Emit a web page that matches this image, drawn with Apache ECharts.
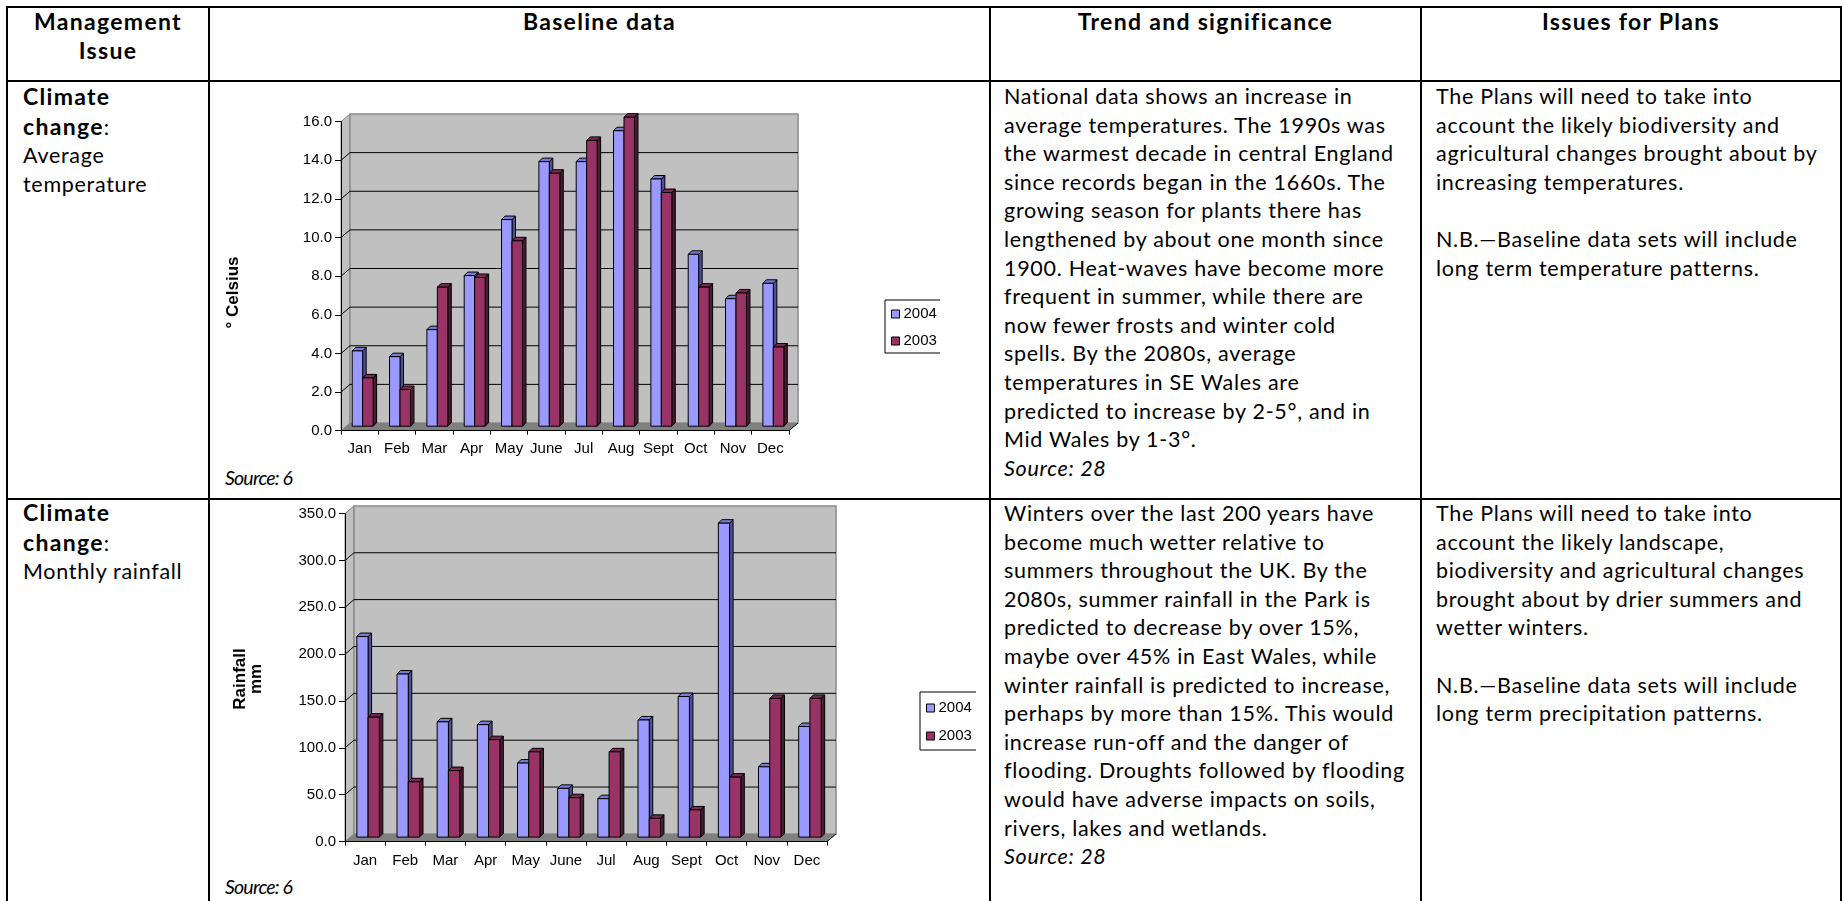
<!DOCTYPE html>
<html>
<head>
<meta charset="utf-8">
<script src="https://cdn.jsdelivr.net/npm/echarts@6.0.0/dist/echarts.min.js"></script>
<style>
  html, body { margin: 0; padding: 0; background: #fff; }
  body { width: 1843px; height: 901px; position: relative; overflow: hidden; }
  .ln { position: absolute; background: #000; }
  .txt {
    position: absolute; font-family: 'Lato', 'Noto Sans', sans-serif; font-size: 21.5px;
    letter-spacing: 0.7px; line-height: 28.6px; color: #000; white-space: nowrap;
  }
  .txt b, .hd { font-weight: bold; font-size: 23px; letter-spacing: 1.3px; }
  .hd { text-align: center; }
  .src { font-style: italic; }
  .src6 { font-size: 19.5px; letter-spacing: -0.8px; }
  .chart { position: absolute; }
</style>
</head>
<body>
<!-- table rules -->
<div class="ln" style="left:6px;top:6px;width:1836px;height:2px"></div>
<div class="ln" style="left:6px;top:80px;width:1836px;height:2px"></div>
<div class="ln" style="left:6px;top:498px;width:1836px;height:2px"></div>
<div class="ln" style="left:6px;top:6px;width:2px;height:895px"></div>
<div class="ln" style="left:208px;top:6px;width:2px;height:895px"></div>
<div class="ln" style="left:989px;top:6px;width:2px;height:895px"></div>
<div class="ln" style="left:1420px;top:6px;width:2px;height:895px"></div>
<div class="ln" style="left:1840px;top:6px;width:2px;height:895px"></div>

<!-- header -->
<div class="txt hd" style="left:8px;width:200px;top:7px">Management<br>Issue</div>
<div class="txt hd" style="left:210px;width:779px;top:7px">Baseline data</div>
<div class="txt hd" style="left:991px;width:429px;top:7px">Trend and significance</div>
<div class="txt hd" style="left:1422px;width:418px;top:7px">Issues for Plans</div>

<!-- row 1 -->
<div class="txt" style="left:23px;top:82px"><b>Climate<br>change</b>:<br>Average<br>temperature</div>
<div class="txt src src6" style="left:225px;top:464px">Source: 6</div>
<div class="txt" style="left:1004px;top:82px">National data shows an increase in<br>average temperatures. The 1990s was<br>the warmest decade in central England<br>since records began in the 1660s. The<br>growing season for plants there has<br>lengthened by about one month since<br>1900. Heat-waves have become more<br>frequent in summer, while there are<br>now fewer frosts and winter cold<br>spells. By the 2080s, average<br>temperatures in SE Wales are<br>predicted to increase by 2-5°, and in<br>Mid Wales by 1-3°.<br><span class="src">Source: 28</span></div>
<div class="txt" style="left:1436px;top:82px">The Plans will need to take into<br>account the likely biodiversity and<br>agricultural changes brought about by<br>increasing temperatures.<br><br>N.B.—Baseline data sets will include<br>long term temperature patterns.</div>

<!-- row 2 -->
<div class="txt" style="left:23px;top:498px"><b>Climate<br>change</b>:<br>Monthly rainfall</div>
<div class="txt src src6" style="left:225px;top:873px">Source: 6</div>
<div class="txt" style="left:1004px;top:499px">Winters over the last 200 years have<br>become much wetter relative to<br>summers throughout the UK. By the<br>2080s, summer rainfall in the Park is<br>predicted to decrease by over 15%,<br>maybe over 45% in East Wales, while<br>winter rainfall is predicted to increase,<br>perhaps by more than 15%. This would<br>increase run-off and the danger of<br>flooding. Droughts followed by flooding<br>would have adverse impacts on soils,<br>rivers, lakes and wetlands.<br><span class="src">Source: 28</span></div>
<div class="txt" style="left:1436px;top:499px">The Plans will need to take into<br>account the likely landscape,<br>biodiversity and agricultural changes<br>brought about by drier summers and<br>wetter winters.<br><br>N.B.—Baseline data sets will include<br>long term precipitation patterns.</div>

<div id="tempChart" class="chart" style="left:212px;top:83px;width:728px;height:414px"></div>
<div id="rainChart" class="chart" style="left:212px;top:501px;width:764px;height:400px"></div>

<script>
  var months = ['Jan', 'Feb', 'Mar', 'Apr', 'May', 'June', 'Jul', 'Aug', 'Sept', 'Oct', 'Nov', 'Dec'];
  var years = ['2004', '2003'];

  // average temperature, deg C
  var temp2004 = [3.9, 3.6, 5.0, 7.8, 10.7, 13.7, 13.7, 15.3, 12.8, 8.9, 6.6, 7.4];
  var temp2003 = [2.5, 1.9, 7.2, 7.7, 9.6, 13.1, 14.8, 16.0, 12.1, 7.2, 6.9, 4.1];
  var tempTicks = [0, 2, 4, 6, 8, 10, 12, 14, 16];

  // monthly rainfall, mm
  var rain2004 = [214, 174, 123, 120, 79, 52, 41, 125, 150, 335, 75, 118];
  var rain2003 = [128, 59, 71, 104, 91, 42, 91, 20, 29, 64, 148, 148];
  var rainTicks = [0, 50, 100, 150, 200, 250, 300, 350];

  var FONT = '"Liberation Sans", Arial, sans-serif';
  var WALL_DX = 9, WALL_DY = 7.7;     // depth of the 3D walls
  var BAR_DX = 3.5, BAR_DY = 3.5;     // depth of each column
  var BAR_SHIFT_X = 3, BAR_SHIFT_Y = 4.5;
  var BAR_RATIO = 0.28;

  var palette = {
    '2004': { front: '#9999ff', top: '#7b7bd6', side: '#50509a' },
    '2003': { front: '#993366', top: '#7d2a53', side: '#4c1932' }
  };

  // Back wall, side wall, floor and gridlines of the Excel style 3D plot
  function wallItem(ticks) {
    return function (params, api) {
      var band = api.size([1, 0])[0];
      var x0 = api.coord([0, ticks[0]])[0] - band / 2;
      var x1 = api.coord([months.length - 1, ticks[0]])[0] + band / 2;
      var yb = api.coord([0, ticks[0]])[1];
      var yt = api.coord([0, ticks[ticks.length - 1]])[1];
      var kids = [];
      kids.push({ type: 'polygon', shape: { points: [[x0, yb], [x0 + WALL_DX, yb - WALL_DY], [x0 + WALL_DX, yt - WALL_DY], [x0, yt]] },
        style: { fill: '#c0c0c0', stroke: '#808080', lineWidth: 1 } });
      kids.push({ type: 'rect', shape: { x: x0 + WALL_DX, y: yt - WALL_DY, width: x1 - x0, height: yb - yt },
        style: { fill: '#c0c0c0', stroke: '#8a8a8a', lineWidth: 1.5 } });
      kids.push({ type: 'polygon', shape: { points: [[x0, yb], [x1, yb], [x1 + WALL_DX, yb - WALL_DY], [x0 + WALL_DX, yb - WALL_DY]] },
        style: { fill: '#808080' } });
      kids.push({ type: 'line', shape: { x1: x1, y1: yb, x2: x1 + WALL_DX, y2: yb - WALL_DY },
        style: { stroke: '#000', lineWidth: 1 } });
      ticks.slice(1, -1).forEach(function (v) {
        var y = api.coord([0, v])[1];
        kids.push({ type: 'polyline', shape: { points: [[x0, y], [x0 + WALL_DX, y - WALL_DY], [x1 + WALL_DX, y - WALL_DY]] },
          style: { stroke: '#000', lineWidth: 1, fill: 'none' } });
      });
      return { type: 'group', children: kids };
    };
  }

  function barItem(side, colors) {
    return function (params, api) {
      var band = api.size([1, 0])[0];
      var w = band * BAR_RATIO;
      var base = api.coord([api.value(0), 0]);
      var top = api.coord([api.value(0), api.value(1)]);
      var cx = base[0] + BAR_SHIFT_X;
      var xl = side === 0 ? cx - w : cx;
      var xr = xl + w;
      var yb = base[1] - BAR_SHIFT_Y;
      var yt = top[1] - BAR_SHIFT_Y;
      var line = { stroke: '#000', lineWidth: 1, lineJoin: 'round' };
      return { type: 'group', children: [
        { type: 'polygon', shape: { points: [[xr, yt], [xr + BAR_DX, yt - BAR_DY], [xr + BAR_DX, yb - BAR_DY], [xr, yb]] },
          style: Object.assign({ fill: colors.side }, line) },
        { type: 'polygon', shape: { points: [[xl, yt], [xl + BAR_DX, yt - BAR_DY], [xr + BAR_DX, yt - BAR_DY], [xr, yt]] },
          style: Object.assign({ fill: colors.top }, line) },
        { type: 'rect', shape: { x: xl, y: yt, width: w, height: yb - yt },
          style: Object.assign({ fill: colors.front }, line) }
      ] };
    };
  }

  function pairs(values) {
    return values.map(function (v, i) { return [i, v]; });
  }

  function buildOption(cfg) {
    return {
      animation: false,
      grid: cfg.grid,
      legend: {
        data: years, orient: 'vertical', left: cfg.legend.left, top: cfg.legend.top,
        padding: cfg.legend.padding, itemGap: cfg.legend.gap,
        itemWidth: 8, itemHeight: 8, icon: 'rect',
        borderColor: '#000', borderWidth: 1, borderRadius: 0,
        itemStyle: { borderColor: '#000', borderWidth: 1 },
        textStyle: { fontFamily: FONT, fontSize: 15, color: '#000', lineHeight: 18, padding: [0, 0, 0, -1] }
      },
      xAxis: {
        type: 'category', data: months, boundaryGap: true,
        axisLine: { lineStyle: { color: '#000', width: 1 } },
        axisTick: { show: true, length: 4, lineStyle: { color: '#000' } },
        axisLabel: { interval: 0, color: '#000', fontFamily: FONT, fontSize: 15, margin: cfg.xMargin }
      },
      yAxis: {
        type: 'value', min: cfg.ticks[0], max: cfg.ticks[cfg.ticks.length - 1],
        interval: cfg.ticks[1] - cfg.ticks[0],
        axisLine: { show: true, lineStyle: { color: '#000', width: 1 } },
        axisTick: { show: true, length: 6, lineStyle: { color: '#000' } },
        axisLabel: { color: '#000', fontFamily: FONT, fontSize: 15, margin: 9,
          formatter: function (v) { return v.toFixed(1); } },
        splitLine: { show: false }
      },
      graphic: [{
        type: 'text', x: cfg.title.x, y: cfg.title.y, rotation: Math.PI / 2,
        style: { text: cfg.title.text, fontFamily: FONT, fontWeight: 'bold', fontSize: 17,
          lineHeight: 16, fill: '#000', align: 'center', verticalAlign: 'middle' }
      }],
      series: [
        { type: 'custom', name: 'walls', z: -1, silent: true, data: [[0, 0]],
          renderItem: wallItem(cfg.ticks), encode: { x: 0, y: 1 } },
        { type: 'custom', name: '2004', itemStyle: { color: palette['2004'].front }, data: pairs(cfg.s2004),
          renderItem: barItem(0, palette['2004']), encode: { x: 0, y: 1 } },
        { type: 'custom', name: '2003', itemStyle: { color: palette['2003'].front }, data: pairs(cfg.s2003),
          renderItem: barItem(1, palette['2003']), encode: { x: 0, y: 1 } }
      ]
    };
  }

  var tempChart = echarts.init(document.getElementById('tempChart'));
  tempChart.setOption(buildOption({
    grid: { left: 129, top: 38.7, width: 448, height: 309 },
    ticks: tempTicks, s2004: temp2004, s2003: temp2003, xMargin: 11,
    legend: { left: 673, top: 217, padding: [5, 12, 3, 6], gap: 9 },
    title: { text: '° Celsius', x: 21.5, y: 209.5 }
  }));

  var rainChart = echarts.init(document.getElementById('rainChart'));
  rainChart.setOption(buildOption({
    grid: { left: 133, top: 12.6, width: 482, height: 328 },
    ticks: rainTicks, s2004: rain2004, s2003: rain2003, xMargin: 12,
    legend: { left: 708, top: 191, padding: [7, 12, 5, 6], gap: 10 },
    title: { text: 'Rainfall\nmm', x: 36, y: 178 }
  }));
</script>
</body>
</html>
